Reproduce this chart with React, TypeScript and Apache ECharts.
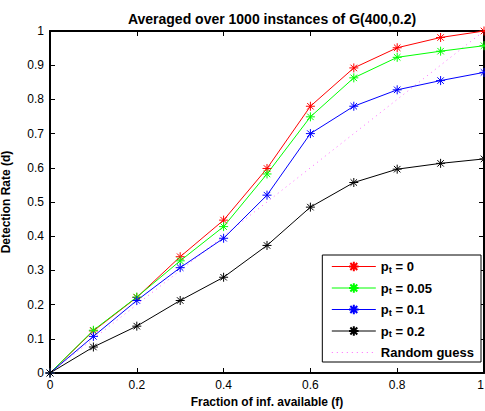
import React, { useEffect, useRef } from "react";
import * as echarts from "echarts";

const xValues = [0, 0.1, 0.2, 0.3, 0.4, 0.5, 0.6, 0.7, 0.8, 0.9, 1.0];
const pt0 = [0, 0.123, 0.221, 0.34, 0.447, 0.598, 0.78, 0.892, 0.951, 0.981, 1.0];
const pt005 = [0, 0.125, 0.222, 0.328, 0.428, 0.582, 0.749, 0.863, 0.923, 0.941, 0.957];
const pt01 = [0, 0.107, 0.212, 0.308, 0.394, 0.52, 0.7, 0.78, 0.828, 0.855, 0.879];
const pt02 = [0, 0.076, 0.137, 0.212, 0.28, 0.373, 0.485, 0.557, 0.596, 0.613, 0.626];
const randomX = [0, 1];
const randomY = [0, 1];
const seriesNames = ["pt = 0", "pt = 0.05", "pt = 0.1", "pt = 0.2", "Random guess"];
const legendLabels: Record<string, string> = {
  "pt = 0": "{b|p}{s|t}{b| = 0}",
  "pt = 0.05": "{b|p}{s|t}{b| = 0.05}",
  "pt = 0.1": "{b|p}{s|t}{b| = 0.1}",
  "pt = 0.2": "{b|p}{s|t}{b| = 0.2}",
  "Random guess": "{b|Random guess}",
};

const STAR = "path://M0,-5L0,5M-5,0L5,0M-3.6,-3.6L3.6,3.6M-3.6,3.6L3.6,-3.6";
const FONT = "'Liberation Sans', Arial, Helvetica, sans-serif";

function zip(xs: number[], ys: number[]) {
  return xs.map((x, i) => [x, ys[i]]);
}

export default function App() {
  const ref = useRef<HTMLDivElement>(null);
  useEffect(() => {
    if (!ref.current) return;
    const chart = echarts.init(ref.current, undefined, { renderer: "svg" });
    const lineSeries = (name: string, data: number[], color: string) => ({
      name,
      type: "line",
      data: zip(xValues, data),
      symbol: STAR,
      symbolSize: 9,
      lineStyle: { color, width: 1 },
      itemStyle: { color, borderColor: color, borderWidth: 1 },
      z: 3,
    });
    const axisCommon = {
      axisLine: { show: true, onZero: false, lineStyle: { color: "#000", width: 2 } },
      axisTick: { show: true, inside: true, length: 5, lineStyle: { color: "#000", width: 1 } },
      splitLine: { show: false },
    };
    const fmt = (v: number) => String(+v.toFixed(1));
    chart.setOption({
      animation: false,
      backgroundColor: "#fff",
      textStyle: { fontFamily: FONT },
      title: {
        text: "Averaged over 1000 instances of G(400,0.2)",
        left: 267,
        top: 7,
        textAlign: "center",
        textStyle: { fontFamily: FONT, fontSize: 14, fontWeight: "bold", color: "#000" },
      },
      grid: { left: 50, right: 1, top: 31, bottom: 38, outerBoundsMode: "none", containLabel: false },
      xAxis: [
        {
          type: "value",
          min: 0,
          max: 1,
          interval: 0.2,
          position: "bottom",
          name: "Fraction of inf. available (f)",
          nameLocation: "middle",
          nameGap: 21,
          nameTextStyle: { fontFamily: FONT, fontSize: 12, fontWeight: "bold", color: "#000" },
          axisLabel: {
            formatter: fmt,
            color: "#000",
            fontSize: 12,
            fontFamily: FONT,
            margin: 6,
            alignMaxLabel: "right",
          },
          ...axisCommon,
        },
        {
          type: "value",
          min: 0,
          max: 1,
          interval: 0.2,
          position: "top",
          axisLabel: { show: false },
          ...axisCommon,
        },
      ],
      yAxis: [
        {
          type: "value",
          min: 0,
          max: 1,
          interval: 0.1,
          position: "left",
          name: "Detection Rate (d)",
          nameLocation: "middle",
          nameGap: 38,
          nameTextStyle: { fontFamily: FONT, fontSize: 12, fontWeight: "bold", color: "#000" },
          axisLabel: { formatter: fmt, color: "#000", fontSize: 12, fontFamily: FONT, margin: 6 },
          ...axisCommon,
        },
        {
          type: "value",
          min: 0,
          max: 1,
          interval: 0.1,
          position: "right",
          axisLabel: { show: false },
          ...axisCommon,
        },
      ],
      legend: {
        show: true,
        orient: "vertical",
        right: 4,
        top: 255,
        data: seriesNames,
        backgroundColor: "#fff",
        borderColor: "#000",
        borderWidth: 1,
        borderRadius: 0,
        padding: [5, 7, 3, 9],
        itemWidth: 44,
        itemHeight: 12,
        itemGap: 7.5,
        lineStyle: { width: 1 },
        formatter: (name: string) => legendLabels[name],
        textStyle: {
          color: "#000",
          fontFamily: FONT,
          fontSize: 13,
          fontWeight: "bold",
          rich: {
            b: { fontFamily: FONT, fontSize: 13, fontWeight: "bold", color: "#000", lineHeight: 15, verticalAlign: "middle" },
            s: { fontFamily: FONT, fontSize: 9.5, fontWeight: "bold", color: "#000", lineHeight: 8, verticalAlign: "bottom" },
          },
        },
      },
      series: [
        lineSeries(seriesNames[0], pt0, "#ff0000"),
        lineSeries(seriesNames[1], pt005, "#00ff00"),
        lineSeries(seriesNames[2], pt01, "#0000ff"),
        lineSeries(seriesNames[3], pt02, "#000000"),
        {
          name: seriesNames[4],
          type: "line",
          data: zip(randomX, randomY),
          symbol: "circle",
          symbolSize: 1,
          showSymbol: false,
          lineStyle: { color: "#ff66ff", width: 1, type: [1, 4] },
          itemStyle: { color: "#ff66ff", opacity: 0 },
          z: 2,
        },
      ],
    });
    return () => chart.dispose();
  }, []);
  return (
    <div
      ref={ref}
      style={{ position: "absolute", left: 0, top: 0, width: 485, height: 411, background: "#fff" }}
    />
  );
}
